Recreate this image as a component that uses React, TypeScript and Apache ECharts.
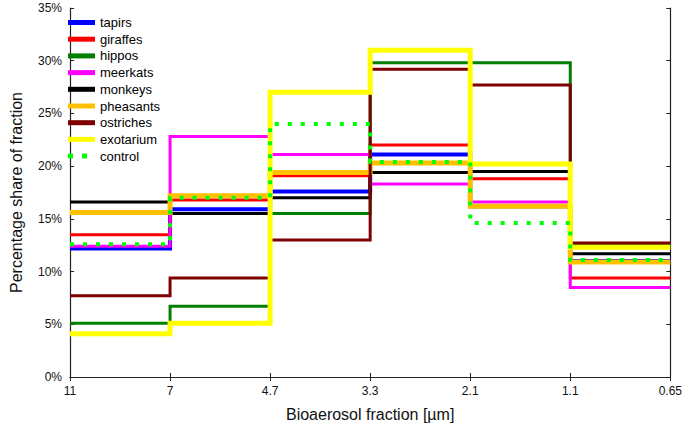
import React, { useEffect, useRef } from "react";
import * as echarts from "echarts";

const categories = ["11", "7", "4.7", "3.3", "2.1", "1.1", "0.65"];

const tapirs = [12.2, 15.9, 17.6, 21.1, 16.2, 11.0];
const giraffes = [13.5, 16.8, 19.1, 22.0, 18.8, 9.4];
const hippos = [5.1, 6.7, 15.5, 29.8, 29.8, 12.5];
const meerkats = [12.4, 22.8, 21.1, 18.3, 16.6, 8.5];
const monkeys = [16.6, 15.5, 17.0, 19.4, 19.5, 11.7];
const pheasants = [15.6, 17.2, 19.4, 20.3, 16.2, 10.9];
const ostriches = [7.7, 9.4, 13.0, 29.2, 27.7, 12.7];
const exotarium = [4.1, 5.1, 27.0, 31.0, 20.2, 12.3];
const control = [12.6, 17.0, 24.0, 20.4, 14.6, 11.1];

const seriesDefs = [
  { name: "tapirs", data: tapirs, color: "#0000FF", width: 4 },
  { name: "giraffes", data: giraffes, color: "#FF0000", width: 3 },
  { name: "hippos", data: hippos, color: "#007F00", width: 3 },
  { name: "meerkats", data: meerkats, color: "#FF00FF", width: 3 },
  { name: "monkeys", data: monkeys, color: "#000000", width: 3 },
  { name: "pheasants", data: pheasants, color: "#FFC000", width: 5 },
  { name: "ostriches", data: ostriches, color: "#7F0000", width: 3 },
  { name: "exotarium", data: exotarium, color: "#FFFF00", width: 5 },
  { name: "control", data: control, color: "#00FF00", width: 4, dotted: true },
];

const FONT = "Liberation Sans, Arial, sans-serif";
const LINE_ICON = "path://M0,0h27v5h-27z";
const DOT_ICON = "path://M0,0h5v5h-5zM14,0h5v5h-5zM26.98,0h0.02v5h-0.02z";

export default function App() {
  const ref = useRef<HTMLDivElement>(null);
  useEffect(() => {
    if (!ref.current) return;
    const chart = echarts.init(ref.current, undefined, { renderer: "svg" });
    const axisLine = { show: true, lineStyle: { color: "#222", width: 1.2 } };
    chart.setOption({
      animation: false,
      backgroundColor: "#fff",
      textStyle: { fontFamily: FONT },
      grid: { left: 60, right: 13, top: 8, bottom: 50, containLabel: false },
      legend: {
        orient: "vertical",
        left: 68,
        top: 16,
        padding: 0,
        itemWidth: 27,
        itemHeight: 5,
        itemGap: 3.7,
        textStyle: { fontSize: 13, color: "#000", fontFamily: FONT },
        data: seriesDefs.map((s) => ({
          name: s.name,
          icon: s.dotted ? DOT_ICON : LINE_ICON,
          itemStyle: { color: s.color, borderWidth: 0 },
        })),
      },
      xAxis: [
        {
          type: "category",
          data: categories,
          boundaryGap: false,
          position: "bottom",
          axisLine,
          axisTick: { show: true, inside: true, length: 4, lineStyle: { color: "#222" } },
          axisLabel: { fontSize: 12, color: "#111", margin: 8, fontFamily: FONT },
          splitLine: { show: false },
          name: "Bioaerosol fraction [µm]",
          nameLocation: "middle",
          nameGap: 29,
          nameTextStyle: { fontSize: 16, color: "#111", fontFamily: FONT },
        },
        {
          type: "category",
          data: categories,
          boundaryGap: false,
          position: "top",
          axisLine,
          axisTick: { show: true, inside: true, length: 4, lineStyle: { color: "#222" } },
          axisLabel: { show: false },
          splitLine: { show: false },
        },
      ],
      yAxis: [
        {
          type: "value",
          min: 0,
          max: 35,
          interval: 5,
          position: "left",
          axisLine,
          axisTick: { show: true, inside: true, length: 4, lineStyle: { color: "#222" } },
          axisLabel: { formatter: "{value}%", fontSize: 12, color: "#111", margin: 8, fontFamily: FONT },
          splitLine: { show: false },
          name: "Percentage share of fraction",
          nameLocation: "middle",
          nameGap: 46,
          nameTextStyle: { fontSize: 16, color: "#111", fontFamily: FONT },
        },
        {
          type: "value",
          min: 0,
          max: 35,
          interval: 5,
          position: "right",
          axisLine,
          axisTick: { show: true, inside: true, length: 4, lineStyle: { color: "#222" } },
          axisLabel: { show: false },
          splitLine: { show: false },
        },
      ],
      series: seriesDefs.map((s) => ({
        name: s.name,
        type: "line",
        step: "end",
        symbol: "none",
        xAxisIndex: 0,
        yAxisIndex: 0,
        color: s.color,
        lineStyle: {
          color: s.color,
          width: s.width,
          type: s.dotted ? [4, 9] : "solid",
          cap: "butt",
          join: "miter",
        },
        data: [...s.data, s.data[s.data.length - 1]],
      })),
    });
    return () => chart.dispose();
  }, []);
  return <div ref={ref} style={{ width: 685, height: 427, position: "absolute", left: 0, top: 0 }} />;
}
